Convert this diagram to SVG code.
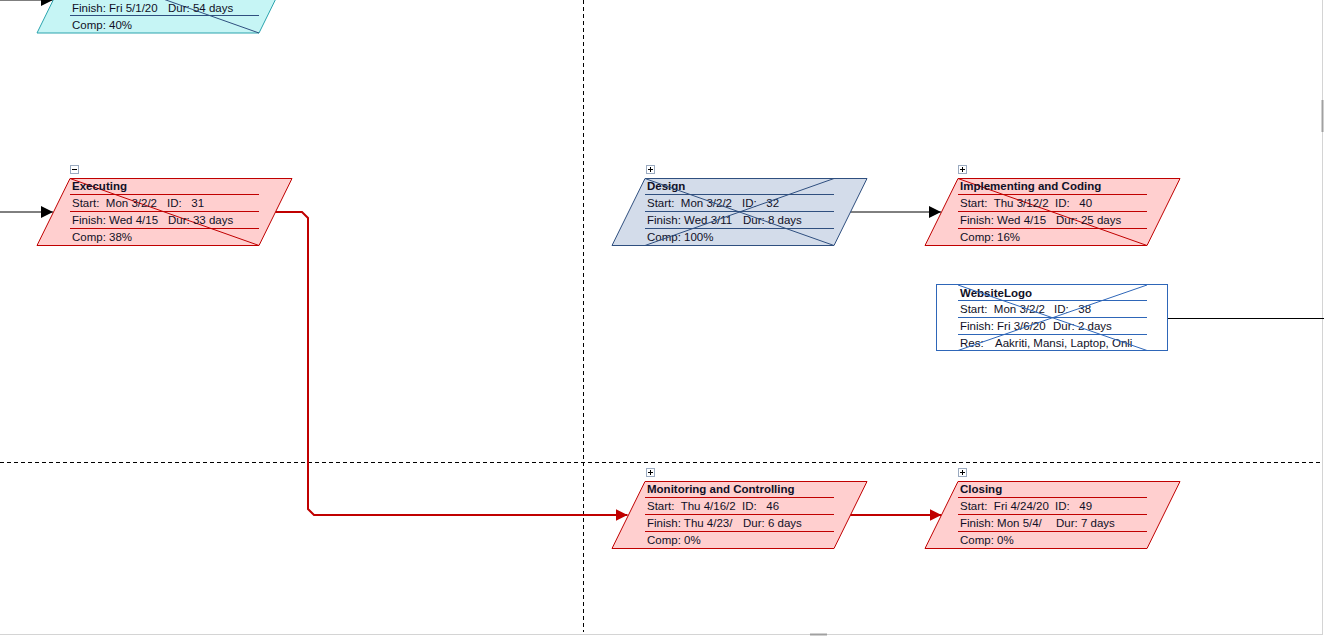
<svg xmlns="http://www.w3.org/2000/svg" width="1324" height="636" viewBox="0 0 1324 636" xml:space="preserve">
  <style>
    text { font-family: "Liberation Sans", Arial, sans-serif; font-size: 11.5px; fill: #101026; white-space: pre; }
    .title { font-weight: bold; }
    .red { fill: #ffcfcf; stroke: #c00000; stroke-width: 1; }
    .redl { stroke: #c00000; stroke-width: 1; fill: none; }
    .blue { fill: #d3dcea; stroke: #2f4f7f; stroke-width: 1; }
    .bluel { stroke: #2f4f7f; stroke-width: 1; fill: none; }
    .cyan { fill: #c6f5f5; stroke: #2aa3ad; stroke-width: 1; }
    .logo { fill: #ffffff; stroke: #2e66b8; stroke-width: 1; }
    .logol { stroke: #2e66b8; stroke-width: 1; fill: none; }
    .grid { stroke: #000; stroke-width: 1; stroke-dasharray: 4 3; fill: none; }
    .conn { stroke: #000; stroke-width: 1; fill: none; }
    .crit { stroke: #c00000; stroke-width: 2; fill: none; }
    .tog { fill: #fff; stroke: #9aaac0; stroke-width: 1; }
    .togl { stroke: #000; stroke-width: 1; }
  </style>
  <defs>
    <marker id="ah" viewBox="0 0 12 12" refX="12" refY="6" markerWidth="12" markerHeight="12" markerUnits="userSpaceOnUse" orient="auto">
      <path d="M0,0 L12,6 L0,12 Z" fill="#000"/>
    </marker>
    <marker id="ahr" viewBox="0 0 12 12" refX="12" refY="6" markerWidth="12" markerHeight="12" markerUnits="userSpaceOnUse" orient="auto">
      <path d="M0,0 L12,6 L0,12 Z" fill="#c00000"/>
    </marker>
  </defs>

  <rect x="0" y="0" width="1324" height="636" fill="#fff"/>

  <!-- page break lines -->
  <g id="page-breaks">
    <line class="grid" x1="583.5" y1="0" x2="583.5" y2="632"/>
    <line class="grid" x1="0" y1="462.5" x2="1322" y2="462.5"/>
  </g>

  <!-- window edges -->
  <g id="frame">
    <line x1="1322.5" y1="0" x2="1322.5" y2="634" stroke="#d4d4d4" stroke-width="1"/>
    <line x1="1322.5" y1="100" x2="1322.5" y2="132" stroke="#a0a0a0" stroke-width="2"/>
    <line x1="0" y1="634.5" x2="1323" y2="634.5" stroke="#d4d4d4" stroke-width="1"/>
    <line x1="810" y1="634.5" x2="827" y2="634.5" stroke="#a0a0a0" stroke-width="2"/>
  </g>

  <!-- connectors -->
  <g id="connectors">
    <line class="conn" x1="0" y1="0" x2="53" y2="0" marker-end="url(#ah)"/>
    <line class="conn" x1="0" y1="212" x2="53" y2="212" marker-end="url(#ah)"/>
    <line class="conn" x1="850" y1="212" x2="941" y2="212" marker-end="url(#ah)"/>
    <line class="conn" x1="1168" y1="318.5" x2="1324" y2="318.5"/>
    <path class="crit" d="M275,212 H302 L308,218 V509 L314,515 H627.5" marker-end="url(#ahr)"/>
    <line class="crit" x1="850" y1="515" x2="941.5" y2="515" marker-end="url(#ahr)"/>
  </g>

  <!-- summary task above the page -->
  <g id="node-top">
    <polygon class="cyan" points="70,-34 292,-34 259,33 37,33"/>
    <line class="bluel" x1="70" y1="-34" x2="259" y2="33"/>
    <line class="bluel" x1="70" y1="-1.5" x2="259" y2="-1.5"/>
    <line class="bluel" x1="70" y1="15.5" x2="259" y2="15.5"/>
    <text x="72" y="12">Finish: Fri 5/1/20</text>
    <text x="168" y="12">Dur: 54 days</text>
    <text x="72" y="29">Comp: 40%</text>
  </g>

  <!-- Executing -->
  <g id="node-executing">
    <rect class="tog" x="70.5" y="165.5" width="8" height="8"/>
    <line class="togl" x1="72" y1="169.5" x2="77" y2="169.5"/>
    <polygon class="red" points="70,178.5 292,178.5 259,245.5 37,245.5"/>
    <line class="redl" x1="70" y1="178.5" x2="259" y2="245.5"/>
    <line class="redl" x1="70" y1="194.5" x2="259" y2="194.5"/>
    <line class="redl" x1="70" y1="211.5" x2="259" y2="211.5"/>
    <line class="redl" x1="70" y1="228.5" x2="259" y2="228.5"/>
    <text class="title" x="72" y="190">Executing</text>
    <text x="72" y="207">Start:  Mon 3/2/2</text>
    <text x="167" y="207">ID:   31</text>
    <text x="72" y="224">Finish: Wed 4/15</text>
    <text x="168" y="224">Dur: 33 days</text>
    <text x="72" y="241">Comp: 38%</text>
  </g>

  <!-- Design -->
  <g id="node-design">
    <rect class="tog" x="646.5" y="165.5" width="8" height="8"/>
    <line class="togl" x1="648" y1="169.5" x2="653" y2="169.5"/>
    <line class="togl" x1="650.5" y1="167" x2="650.5" y2="172"/>
    <polygon class="blue" points="645,178.5 867,178.5 834,245.5 612,245.5"/>
    <line class="bluel" x1="645" y1="194.5" x2="834" y2="194.5"/>
    <line class="bluel" x1="645" y1="211.5" x2="834" y2="211.5"/>
    <line class="bluel" x1="645" y1="228.5" x2="834" y2="228.5"/>
    <text class="title" x="647" y="190">Design</text>
    <text x="647" y="207">Start:  Mon 3/2/2</text>
    <text x="742" y="207">ID:   32</text>
    <text x="647" y="224">Finish: Wed 3/11</text>
    <text x="743" y="224">Dur: 8 days</text>
    <text x="647" y="241">Comp: 100%</text>
    <line class="bluel" x1="645" y1="178.5" x2="834" y2="245.5"/>
    <line class="bluel" x1="834" y1="178.5" x2="645" y2="245.5"/>
  </g>

  <!-- Implementing and Coding -->
  <g id="node-implementing">
    <rect class="tog" x="958.5" y="165.5" width="8" height="8"/>
    <line class="togl" x1="960" y1="169.5" x2="965" y2="169.5"/>
    <line class="togl" x1="962.5" y1="167" x2="962.5" y2="172"/>
    <polygon class="red" points="958,178.5 1180,178.5 1147,245.5 925,245.5"/>
    <line class="redl" x1="958" y1="178.5" x2="1147" y2="245.5"/>
    <line class="redl" x1="958" y1="194.5" x2="1147" y2="194.5"/>
    <line class="redl" x1="958" y1="211.5" x2="1147" y2="211.5"/>
    <line class="redl" x1="958" y1="228.5" x2="1147" y2="228.5"/>
    <text class="title" x="960" y="190">Implementing and Coding</text>
    <text x="960" y="207">Start:  Thu 3/12/2</text>
    <text x="1055" y="207">ID:   40</text>
    <text x="960" y="224">Finish: Wed 4/15</text>
    <text x="1056" y="224">Dur: 25 days</text>
    <text x="960" y="241">Comp: 16%</text>
  </g>

  <!-- WebsiteLogo -->
  <g id="node-websitelogo">
    <rect class="logo" x="936.5" y="284.5" width="231" height="66"/>
    <line class="logol" x1="958" y1="300.5" x2="1147" y2="300.5"/>
    <line class="logol" x1="958" y1="317.5" x2="1147" y2="317.5"/>
    <line class="logol" x1="958" y1="334.5" x2="1147" y2="334.5"/>
    <text class="title" x="960" y="297">WebsiteLogo</text>
    <text x="960" y="313">Start:  Mon 3/2/2</text>
    <text x="1054" y="313">ID:   38</text>
    <text x="960" y="330">Finish: Fri 3/6/20</text>
    <text x="1053" y="330">Dur: 2 days</text>
    <text x="960" y="347">Res:</text>
    <text x="995" y="347">Aakriti, Mansi, Laptop, Onli</text>
    <line class="logol" x1="958" y1="285" x2="1147" y2="350.5"/>
    <line class="logol" x1="1147" y1="285" x2="958" y2="350.5"/>
  </g>

  <!-- Monitoring and Controlling -->
  <g id="node-monitoring">
    <rect class="tog" x="646.5" y="468.5" width="8" height="8"/>
    <line class="togl" x1="648" y1="472.5" x2="653" y2="472.5"/>
    <line class="togl" x1="650.5" y1="470" x2="650.5" y2="475"/>
    <polygon class="red" points="645,481.5 867,481.5 834,548.5 612,548.5"/>
    <line class="redl" x1="645" y1="497.5" x2="834" y2="497.5"/>
    <line class="redl" x1="645" y1="514.5" x2="834" y2="514.5"/>
    <line class="redl" x1="645" y1="531.5" x2="834" y2="531.5"/>
    <text class="title" x="647" y="493">Monitoring and Controlling</text>
    <text x="647" y="510">Start:  Thu 4/16/2</text>
    <text x="742" y="510">ID:   46</text>
    <text x="647" y="527">Finish: Thu 4/23/</text>
    <text x="743" y="527">Dur: 6 days</text>
    <text x="647" y="544">Comp: 0%</text>
  </g>

  <!-- Closing -->
  <g id="node-closing">
    <rect class="tog" x="958.5" y="468.5" width="8" height="8"/>
    <line class="togl" x1="960" y1="472.5" x2="965" y2="472.5"/>
    <line class="togl" x1="962.5" y1="470" x2="962.5" y2="475"/>
    <polygon class="red" points="958,481.5 1180,481.5 1147,548.5 925,548.5"/>
    <line class="redl" x1="958" y1="497.5" x2="1147" y2="497.5"/>
    <line class="redl" x1="958" y1="514.5" x2="1147" y2="514.5"/>
    <line class="redl" x1="958" y1="531.5" x2="1147" y2="531.5"/>
    <text class="title" x="960" y="493">Closing</text>
    <text x="960" y="510">Start:  Fri 4/24/20</text>
    <text x="1055" y="510">ID:   49</text>
    <text x="960" y="527">Finish: Mon 5/4/</text>
    <text x="1056" y="527">Dur: 7 days</text>
    <text x="960" y="544">Comp: 0%</text>
  </g>
</svg>
